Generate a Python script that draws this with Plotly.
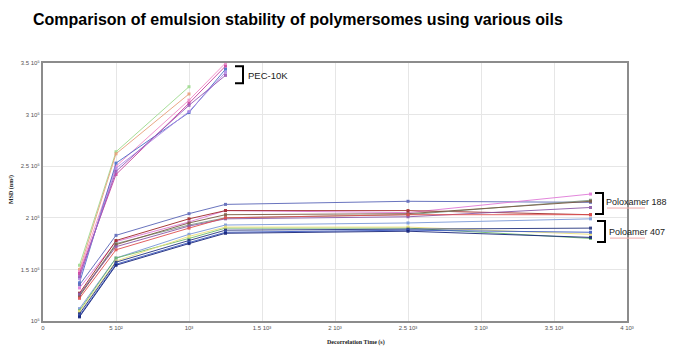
import plotly.graph_objects as go

# ---------------- data ----------------
x_times = [250, 500, 1000, 1250, 2500, 3750]

# PEC-10K group
pec_green = [154000, 264000, 327000]
pec_salmon = [150000, 262000, 320000]
pec_pink = [148000, 250000, 314000, 350000]
pec_magenta = [146000, 242000, 311000, 347000]
pec_blue = [137000, 253000, 302000, 344000]
pec_violet = [141000, 248000, 303000, 341000]
pec_purple = [143000, 245000, 309000, 338000]

# Poloxamer 188 group
p188_navy = [135000, 183000, 204000, 213000, 216000, 215000]
p188_pink = [132000, 177000, 196000, 207000, 205000, 223000]
p188_darkred = [127000, 178000, 199000, 207000, 207000, 203000]
p188_gray = [125000, 175000, 193000, 200000, 203000, 217000]
p188_brown = [124000, 174000, 195000, 203000, 204000, 216000]
p188_purple = [126000, 172000, 192000, 199000, 201000, 210000]
p188_red = [122000, 169000, 190000, 200000, 203000, 203000]

# Poloxamer 407 group
p407_lightblue = [112000, 161000, 184000, 193000, 195000, 199000]
p407_green = [110000, 161000, 180000, 190000, 190000, 180000]
p407_yellow = [109000, 158000, 182000, 191000, 191000, 184000]
p407_navy = [107000, 157000, 178000, 188000, 189000, 190000]
p407_blue = [105000, 155000, 176000, 186000, 188000, 186000]
p407_darkblue = [104000, 154000, 175000, 185000, 187000, 181000]

series = [
    (pec_green, "#9edb8e"), (pec_salmon, "#e8a07a"), (pec_pink, "#f28ac8"),
    (pec_magenta, "#c8409e"), (pec_blue, "#4a6cc8"), (pec_violet, "#b08ae6"),
    (pec_purple, "#9a58b8"),
    (p188_navy, "#5a66b8"), (p188_pink, "#e07ad8"), (p188_darkred, "#a02828"),
    (p188_gray, "#7e9a86"), (p188_brown, "#7a5a40"), (p188_purple, "#8a58a8"),
    (p188_red, "#e05050"),
    (p407_lightblue, "#7a98d8"), (p407_green, "#6cb86c"), (p407_yellow, "#ece27a"),
    (p407_navy, "#24347e"), (p407_blue, "#3a58c4"), (p407_darkblue, "#16247a"),
]

y_tickvals = [100000, 150000, 200000, 250000, 300000, 350000]
y_ticktext = ["10⁵", "1.5 10⁵", "2 10⁵", "2.5 10⁵", "3 10⁵", "3.5 10⁵"]
x_tickvals = [0, 500, 1000, 1500, 2000, 2500, 3000, 3500, 4000]
x_ticktext = ["0", "5 10²", "10³", "1.5 10³", "2 10³", "2.5 10³", "3 10³", "3.5 10³", "4 10³"]

# ---------------- layout helpers (pixel -> paper) ----------------
W, H = 680, 358
L, R, T, B = 43, 627, 63.3, 320.7


def px(x):
    return (x - L) / (R - L)


def py(y):
    return (B - y) / (B - T)


fig = go.Figure()
for vals, col in series:
    fig.add_trace(go.Scatter(
        x=x_times[:len(vals)], y=vals, mode="lines+markers",
        line=dict(color=col, width=1),
        marker=dict(symbol="square", size=3, color=col),
        opacity=0.9,
        showlegend=False, cliponaxis=False,
    ))

fig.update_layout(
    width=W, height=H,
    margin=dict(l=L, r=W - R, t=T, b=H - B),
    paper_bgcolor="white", plot_bgcolor="white",
    font=dict(family="Liberation Sans, Arial", color="#333"),
    title=dict(text="<b>Comparison of emulsion stability of polymersomes using various oils</b>",
               xref="container", yref="container", x=33 / W, y=1 - 19 / H,
               xanchor="left", yanchor="middle",
               font=dict(size=16, color="black", family="Liberation Sans, Arial")),
)
fig.update_xaxes(
    range=[0, 4000], tickvals=x_tickvals, ticktext=x_ticktext,
    tickfont=dict(size=6, color="#555"), showgrid=True, gridcolor="#e6e6e6",
    gridwidth=1, showline=True, linecolor="#8c8c8c", linewidth=2, mirror=True,
    ticks="", zeroline=False,
)
fig.update_yaxes(
    range=[100000, 350000], tickvals=y_tickvals, ticktext=y_ticktext,
    tickfont=dict(size=6, color="#555"), showgrid=True, gridcolor="#e6e6e6",
    gridwidth=1, showline=True, linecolor="#8c8c8c", linewidth=2, mirror=True,
    ticks="", zeroline=False,
)

ann = []
ann.append(dict(text="<b>MSD (nm²)</b>", x=px(12), y=py(190), xref="paper", yref="paper",
                textangle=-90, showarrow=False, xanchor="center", yanchor="middle",
                font=dict(size=6, color="#222", family="Liberation Serif, Times New Roman")))
ann.append(dict(text="<b>Decorrelation Time (s)</b>", x=px(356), y=py(342), xref="paper", yref="paper",
                showarrow=False, xanchor="center", yanchor="middle",
                font=dict(size=6, color="#222", family="Liberation Serif, Times New Roman")))
ann.append(dict(text="PEC-10K", x=px(246), y=py(76), xref="paper", yref="paper", showarrow=False,
                xanchor="left", yanchor="middle", font=dict(size=9.5, color="#222", family="Liberation Sans")))
ann.append(dict(text="Poloxamer 188", x=px(604), y=py(202), xref="paper", yref="paper", showarrow=False,
                xanchor="left", yanchor="middle", font=dict(size=9, color="#222", family="Liberation Sans")))
ann.append(dict(text="Poloamer 407", x=px(607), y=py(232), xref="paper", yref="paper", showarrow=False,
                xanchor="left", yanchor="middle", font=dict(size=9, color="#222", family="Liberation Sans")))
fig.update_layout(annotations=ann)


def bracket(x0, x1, y0, y1):
    return dict(type="path", xref="paper", yref="paper",
                path=f"M {px(x0)} {py(y0)} L {px(x1)} {py(y0)} L {px(x1)} {py(y1)} L {px(x0)} {py(y1)}",
                line=dict(color="black", width=2))


shapes = [
    bracket(235, 243, 66.5, 83.5),
    bracket(595, 603, 193, 214),
    bracket(597, 605, 221, 242),
    dict(type="line", xref="paper", yref="paper", x0=px(607), x1=px(645), y0=py(208), y1=py(208),
         line=dict(color="#f0a8a8", width=1)),
    dict(type="line", xref="paper", yref="paper", x0=px(610), x1=px(645), y0=py(238), y1=py(238),
         line=dict(color="#f0a8a8", width=1)),
]
fig.update_layout(shapes=shapes)

fig.write_html("out.html", config={"displayModeBar": False},
               post_script="document.body.style.margin='0';document.body.style.overflow='hidden';")
